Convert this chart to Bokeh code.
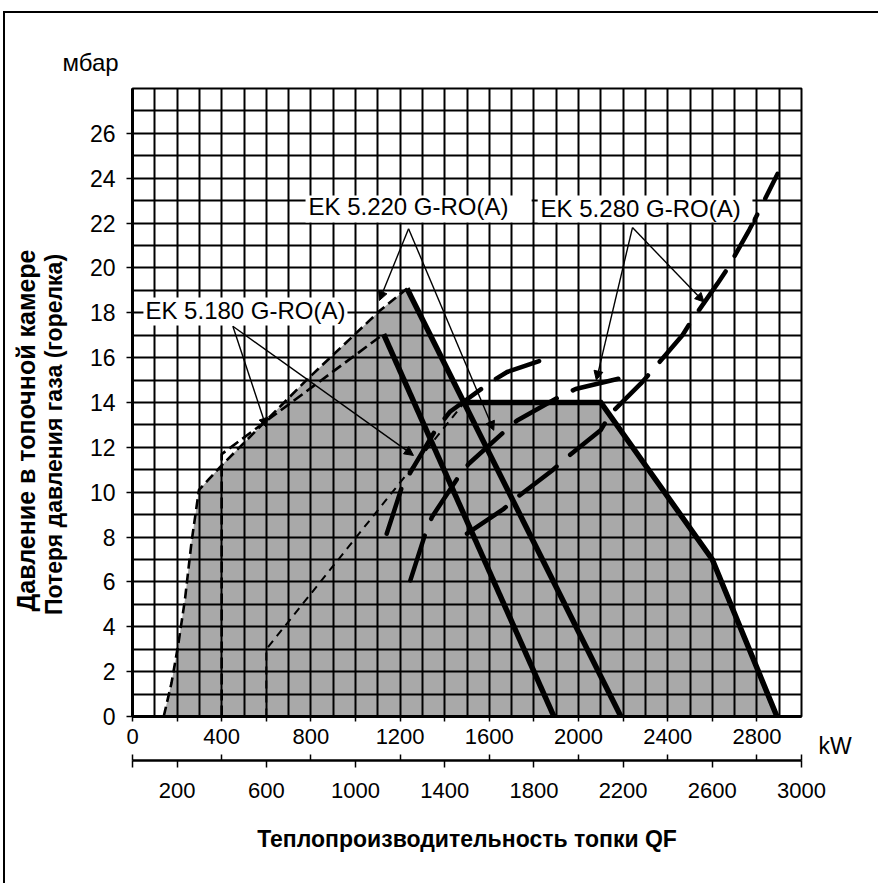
import math
from bokeh.plotting import figure
from bokeh.models import (Range1d, LinearAxis, FixedTicker, Label, Arrow,
                          NormalHead)
from bokeh.embed import file_html
from bokeh.resources import INLINE
from bokeh.core.properties import value

# ---------------- data ----------------
x_label_ticks = [0, 400, 800, 1200, 1600, 2000, 2400, 2800]
x_minor_ticks = [200, 600, 1000, 1400, 1800, 2200, 2600]
x2_label_ticks = [0, 200, 600, 1000, 1400, 1800, 2200, 2600, 3000]
x2_up_ticks = [0, 400, 800, 1200, 1600, 2000, 2400, 2800, 3000]
y_label_ticks = [0, 2, 4, 6, 8, 10, 12, 14, 16, 18, 20, 22, 24, 26]
x_grid = list(range(0, 3001, 100))
y_grid = list(range(0, 29, 1))

# working-field left boundaries (dashed)
field_180_x = [400, 400, 1126]
field_180_y = [0, 11.7, 17.05]
field_220_x = [140, 175, 205, 235, 265, 298, 400, 780, 1110, 1231]
field_220_y = [0, 1.5, 3.2, 5.2, 7.8, 10.1, 11.2, 15.0, 18.1, 19.08]
field_280_x = [600, 600, 1488]
field_280_y = [0, 3, 14]

# working-field right boundaries (solid)
max_180_x = [1126, 1890]
max_180_y = [17.05, 0]
max_220_x = [1231, 2190]
max_220_y = [19.08, 0]
max_280_x = [1488, 2100, 2600, 2890]
max_280_y = [14, 14, 7, 0]

# gas pressure loss curves (burner)
loss_180_x = [1140, 1208, 1238, 1358, 1425, 1605, 1680, 1897]
loss_180_y = [8.15, 10.23, 10.75, 12.76, 13.6, 14.9, 15.36, 16.1]
loss_220_x = [1246, 1313, 1343, 1456, 1508, 1665, 1725, 1912, 1987, 2197]
loss_220_y = [6.07, 8.15, 8.9, 10.6, 11.27, 12.68, 13.2, 14.24, 14.6, 15.1]
loss_280_x = [1500, 1665, 1725, 1882, 1942, 2099, 2144, 2279, 2331, 2466,
              2504, 2623, 2668, 2766, 2796, 2893]
loss_280_y = [8.15, 9.26, 9.78, 10.97, 11.5, 12.76, 13.5, 14.84, 15.43, 17.0,
              17.6, 19.3, 19.97, 21.7, 22.27, 24.2]

model_names = ["EK 5.180 G-RO(A)", "EK 5.220 G-RO(A)", "EK 5.280 G-RO(A)"]
name_x = [58, 789, 1830]
name_y = [18.1, 22.74, 22.67]
box_left = [49, 776, 1817]
box_right = [964, 1790, 2780]
box_bottom = [17.43, 22.02, 22.02]
box_top = [18.68, 23.23, 23.23]

arrow_x0 = [450, 450, 1238, 1238, 2242, 2242]
arrow_y0 = [17.4, 17.4, 21.75, 21.75, 21.8, 21.8]
arrow_x1 = [600, 1260, 1107, 1620, 2080, 2563]
arrow_y1 = [12.9, 11.64, 18.55, 12.76, 15.0, 18.48]

y_title_1 = "Давление в топочной камере"
y_title_2 = "Потеря давления газа (горелка)"
x_title = "Теплопроизводительность топки QF"
y_unit = "мбар"
x_unit = "kW"

FONT = "Liberation Sans"

# ---------------- figure ----------------
W, H = 878, 883
FL, FR, FT, FB = 132, 801, 88, 716

p = figure(width=W, height=H, output_backend="svg", toolbar_location=None,
           x_range=Range1d(0, 3000), y_range=Range1d(0, 28),
           min_border_left=FL, min_border_right=W - FR,
           min_border_top=FT, min_border_bottom=H - FB,
           background_fill_color="white", border_fill_color="white",
           border_fill_alpha=0.0)
p.outline_line_color = "black"
p.outline_line_width = 2
p.styles = {
    "background-color": "white",
    "background-image": "linear-gradient(#000,#000), linear-gradient(#000,#000)",
    "background-size": "2px 100%, 100% 2px",
    "background-position": "3px 11px, 3px 11px",
    "background-repeat": "no-repeat",
}

# grid every 100 kW / 1 mbar
p.xgrid.ticker = FixedTicker(ticks=x_grid)
p.ygrid.ticker = FixedTicker(ticks=y_grid)
for g in (p.xgrid, p.ygrid):
    g.grid_line_color = "black"
    g.grid_line_width = 2
    g.grid_line_alpha = 1.0

# primary x axis
ax = p.xaxis[0]
ax.ticker = FixedTicker(ticks=x_label_ticks, minor_ticks=x_minor_ticks)
ax.axis_line_width = 3
ax.major_tick_out = 5
ax.major_tick_in = 0
ax.minor_tick_out = 5
ax.minor_tick_in = 0
ax.major_tick_line_width = 1.5
ax.minor_tick_line_width = 1.5
ax.major_label_text_font = FONT
ax.major_label_text_font_size = "22px"
ax.major_label_text_color = "black"
ax.major_label_standoff = 7
ax.axis_label = " "
ax.axis_label_text_font_size = "8px"
ax.axis_label_standoff = 2

# secondary x axis
ax2 = LinearAxis(ticker=FixedTicker(ticks=x2_label_ticks, minor_ticks=x2_up_ticks))
ax2.major_label_overrides = {0: ""}
ax2.axis_line_width = 2.5
ax2.major_tick_out = 7
ax2.major_tick_in = 0
ax2.minor_tick_in = 6
ax2.minor_tick_out = 0
ax2.major_tick_line_width = 1.5
ax2.minor_tick_line_width = 1.5
ax2.major_label_text_font = FONT
ax2.major_label_text_font_size = "22px"
ax2.major_label_text_color = "black"
ax2.major_label_standoff = 15
ax2.axis_label = x_title
ax2.axis_label_text_font = FONT
ax2.axis_label_text_font_style = "bold"
ax2.axis_label_text_font_size = "23px"
ax2.axis_label_text_color = "black"
ax2.axis_label_standoff = 25
p.add_layout(ax2, "below")

# y axis
ay = p.yaxis[0]
ay.ticker = FixedTicker(ticks=y_label_ticks)
ay.axis_line_width = 3
ay.major_tick_out = 6
ay.major_tick_in = 0
ay.minor_tick_out = 0
ay.minor_tick_in = 0
ay.major_tick_line_width = 1.5
ay.major_label_text_font = FONT
ay.major_label_text_font_size = "23px"
ay.major_label_text_color = "black"
ay.major_label_standoff = 11

# shaded working area
shade_x = field_220_x + max_280_x
shade_y = field_220_y + max_280_y
p.patch(shade_x, shade_y, fill_color="#a9a9a9", line_color=None, level="image")

# field boundaries
p.line(field_220_x, field_220_y, line_color="black", line_width=2.6, line_dash="10 5")
p.line(field_180_x, field_180_y, line_color="black", line_width=2.6, line_dash="11 5")
p.line(field_280_x, field_280_y, line_color="black", line_width=2.0, line_dash="8 6")

# maxima
for xs, ys in ((max_180_x, max_180_y), (max_220_x, max_220_y), (max_280_x, max_280_y)):
    p.line(xs, ys, line_color="black", line_width=5.5, line_join="miter")

# pressure loss curves
for xs, ys in ((loss_180_x, loss_180_y), (loss_220_x, loss_220_y), (loss_280_x, loss_280_y)):
    p.line(xs, ys, line_color="black", line_width=4.5, line_dash="47 18", line_cap="round")

# model label boxes and texts
p.quad(left=box_left, right=box_right, bottom=box_bottom, top=box_top,
       fill_color="white", line_color=None)
p.text(x=name_x, y=name_y, text=model_names, text_font=value(FONT),
       text_font_size="24px", text_baseline="middle", text_align="left",
       text_color="black")

for i in range(len(arrow_x0)):
    p.add_layout(Arrow(end=NormalHead(size=9, fill_color="black", line_color="black",
                                      line_width=1),
                       x_start=arrow_x0[i], y_start=arrow_y0[i],
                       x_end=arrow_x1[i], y_end=arrow_y1[i],
                       line_color="black", line_width=1.4))

# texts outside the frame (placed in side panels so they are not clipped)
sx = (FR - FL) / 3000.0
sy = (FB - FT) / 28.0
def dx(px):
    return (px - FL) / sx
def dy(py):
    return (FB - py) / sy

p.add_layout(Label(x=dx(62), y=dy(62), text=y_unit, text_font=FONT, text_color="black",
                   text_font_size="24px", text_baseline="alphabetic"), "above")
p.add_layout(Label(x=dx(818), y=dy(745), text=x_unit, text_font=FONT, text_color="black",
                   text_font_size="23px", text_baseline="alphabetic"), "right")
p.add_layout(Label(x=dx(53), y=dy(434), text=y_title_2, text_font=FONT, text_color="black",
                   text_font_size="23px", text_font_style="bold", angle=math.pi / 2,
                   text_align="center", text_baseline="middle"), "left")
p.add_layout(Label(x=dx(25), y=dy(430), text=y_title_1, text_font=FONT, text_color="black",
                   text_font_size="25px", text_font_style="bold", angle=math.pi / 2,
                   text_align="center", text_baseline="middle"), "left")

open("out.html", "w").write(file_html(p, INLINE))
